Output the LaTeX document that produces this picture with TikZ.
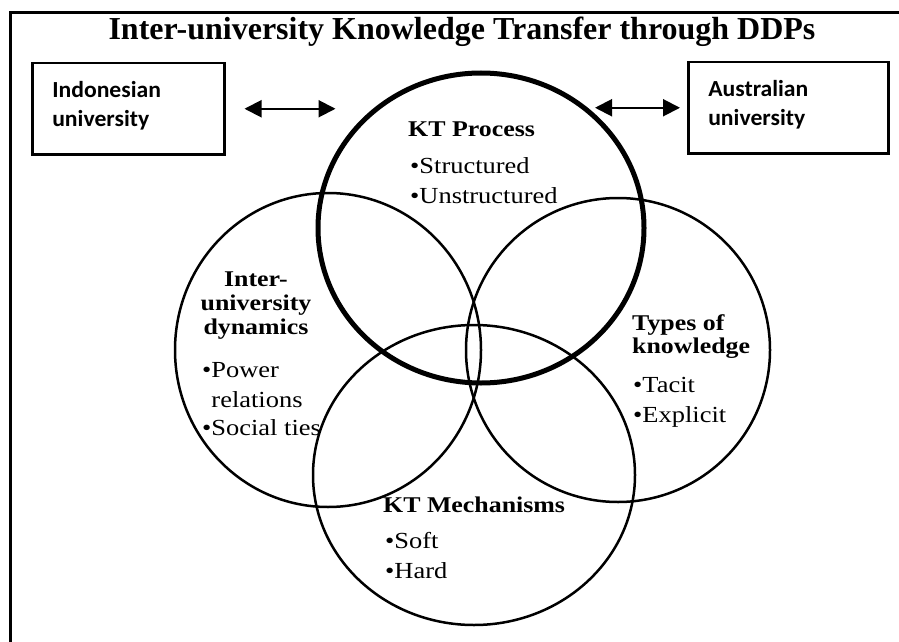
\documentclass[tikz,border=0pt]{standalone}
\usepackage{fontspec}
\setmainfont{Liberation Serif}
\newfontfamily\vennfont[FakeStretch=1.15]{Liberation Serif}
\newfontfamily\boxfont[FakeStretch=1.03]{Carlito}
\usetikzlibrary{arrows.meta,shapes.geometric}

\tikzset{
  venn/.style={draw, ellipse, inner sep=0pt, line width=2.5pt},
  vhead/.style={inner sep=0pt, font=\vennfont\bfseries\fontsize{22.5}{24}\selectfont},
  vlist/.style={inner sep=0pt, align=left, font=\vennfont\fontsize{23}{30}\selectfont},
  unibox/.style={draw, line width=2.5pt, anchor=north west, minimum height=91pt,
    inner xsep=20pt, inner ysep=0pt, align=left, font=\boxfont\bfseries\fontsize{23}{29}\selectfont},
  link/.style={{Triangle[length=17pt,width=17pt]}-{Triangle[length=17pt,width=17pt]}, line width=2pt}
}

\begin{document}
\begin{tikzpicture}[x=1pt,y=-1pt]
    \useasboundingbox (0,0) rectangle (899,642);
    \draw[line width=3pt] (10,642) -- (10,13) -- (899,13);
    \node[anchor=base, font=\bfseries\fontsize{32}{36}\selectfont] (title) at (462,40)
        {Inter-university Knowledge Transfer through DDPs};

    % universities and the links to the KT process
    \node[unibox, text width=152pt] (indo) at (31,62)
        {Indonesian\\university\rule[-10pt]{0pt}{10pt}};
    \node[unibox, text width=160pt] (aus) at (687,61)
        {Australian\\university\rule[-10pt]{0pt}{10pt}};
    \coordinate (indoA) at ([xshift=19pt]indo.east);
    \coordinate (indoB) at ([xshift=110pt]indo.east);
    \coordinate (ausA) at ([xshift=-92pt]aus.west);
    \coordinate (ausB) at ([xshift=-7pt]aus.west);
    \draw[link] (indoA) -- (indoB);
    \draw[link] (ausA) -- (ausB);

    % the four overlapping circles
    \node[venn, minimum width=306pt, minimum height=314pt] (dyn) at (328,350) {};
    \node[venn, minimum width=304pt, minimum height=304pt] (types) at (618,350) {};
    \node[venn, minimum width=322pt, minimum height=300pt] (mech) at (474,475) {};
    \node[venn, line width=5pt, minimum width=326pt, minimum height=310pt] (proc) at (481,228) {};

    \node[vhead, anchor=north west] (procH) at (408,121.8) {KT Process};
    \node[vlist, anchor=north west] (procL) at (410,157.3) {•Structured\\•Unstructured};

    \node[vhead, align=center, anchor=north] (dynH) at (256,271.8) {Inter-\\university\\dynamics};
    \node[vlist, anchor=north west] (dynL) at (202,361.8)
        {•Power\\\phantom{•}relations\\[-2pt]•Social ties};

    \node[vhead, align=left, anchor=north west] (typesH) at (632,314.5) {Types of\\[-1pt]knowledge};
    \node[vlist, anchor=north west] (typesL) at (633,376.8) {•Tacit\\•Explicit};

    \node[vhead, anchor=north west] (mechH) at (383,496.8) {KT Mechanisms};
    \node[vlist, anchor=north west] (mechL) at (385,532.3) {•Soft\\•Hard};
\end{tikzpicture}
\end{document}
